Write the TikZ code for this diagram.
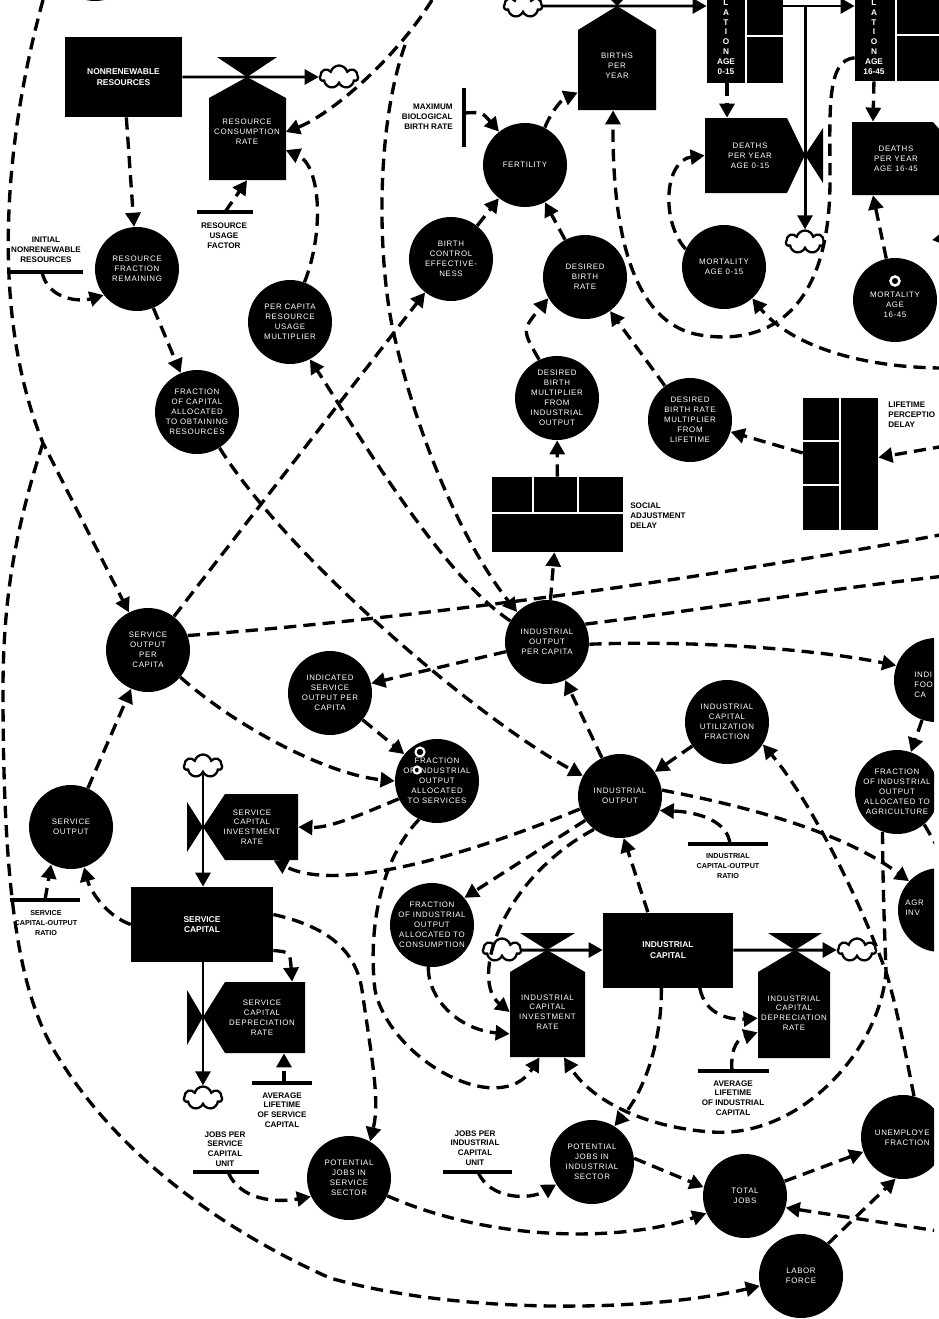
\documentclass[tikz,border=0pt]{standalone}
\usepackage{fontspec}
\setmainfont{Liberation Sans}
\newfontfamily\auxfont[LetterSpace=8.0]{Liberation Sans}
\usetikzlibrary{shapes.symbols, arrows.meta}

\begin{document}
\begin{tikzpicture}[
    x=0.02cm, y=-0.02cm,
    > = {Triangle[length=8pt, width=8.5pt]},
    aux/.style={circle, fill, minimum size=1.68cm, inner sep=0pt, text=white, align=center, font=\auxfont\fontsize{4.5}{5.7}\selectfont},
    rate/.style={inner sep=0pt, text=white, align=center, font=\auxfont\fontsize{4.5}{5.6}\selectfont},
    level/.style={rectangle, fill, inner sep=0pt, text=white, align=center, font=\bfseries\fontsize{4.8}{5.8}\selectfont},
    poptext/.style={inner sep=0pt, text=white, align=center, font=\bfseries\fontsize{4.7}{5.6}\selectfont},
    param/.style={inner sep=0pt, align=center, font=\bfseries\fontsize{4.6}{5.6}\selectfont},
    info/.style={->, line width=1.9pt, dash pattern=on 7pt off 4pt},
    link/.style={line width=1.9pt, dash pattern=on 7pt off 4pt},
    flow/.style={->, line width=1.7pt},
    bar/.style={line width=1.8pt},
    puff/.style={cloud, cloud puffs=7, cloud ignores aspect, draw, fill=white, line width=1.3pt, minimum width=0.76cm, minimum height=0.46cm, inner sep=0pt}
]
\useasboundingbox (0,0) rectangle (939,1319);
\clip (0,0) -- (939,0) -- (939,600) -- (934,600) -- (934,1319) -- (0,1319) -- cycle;

% 1. LEVELS AND DELAYS
\node[level, minimum width=2.34cm, minimum height=1.6cm] (NR) at (123.5,77) {NONRENEWABLE\\RESOURCES};
\node[level, minimum width=2.84cm, minimum height=1.5cm] (SC) at (202,924.5) {SERVICE\\CAPITAL};
\node[level, minimum width=2.6cm, minimum height=1.5cm] (IC) at (668,950) {INDUSTRIAL\\CAPITAL};

\node[level, minimum width=1.52cm, minimum height=1.76cm] (POPA) at (745,39) {};
\node[level, minimum width=1.68cm, minimum height=1.72cm] (POPB) at (897,38) {};
\draw[white, line width=0.8pt] (746,-5) -- (746,83) (746,36) -- (783,36);
\draw[white, line width=0.8pt] (896,-5) -- (896,81) (896,35) -- (939,35);
\node[poptext] (POPAtxt) at (726,37) {L\\A\\T\\I\\O\\N\\AGE\\0-15};
\node[poptext] (POPBtxt) at (874,37) {L\\A\\T\\I\\O\\N\\AGE\\16-45};

\node[level, minimum width=2.62cm, minimum height=1.5cm] (SAD) at (557.5,514.5) {};
\draw[white, line width=0.8pt] (492,513) -- (623,513) (533,477) -- (533,513) (578,477) -- (578,513);
\node[level, minimum width=1.5cm, minimum height=2.64cm] (LPD) at (840.5,464) {};
\draw[white, line width=0.8pt] (840,398) -- (840,530) (803,441) -- (840,441) (803,485) -- (840,485);

% 2. RATES
\fill (209,180) -- (209,98) -- (247,77) -- (286,98) -- (286,180) -- cycle;
\fill (217,57) -- (277,57) -- (247,77) -- cycle;
\node[rate, minimum width=1.54cm, minimum height=1.92cm] (RCR) at (247,132) {RESOURCE\\CONSUMPTION\\RATE};

\fill (578,110) -- (578,30) -- (617,6) -- (656,30) -- (656,110) -- cycle;
\fill (597,-14) -- (637,-14) -- (617,6) -- cycle;
\node[rate, minimum width=1.56cm, minimum height=1.76cm] (BPY) at (617,66) {BIRTHS\\PER\\YEAR};

\fill (705,118) -- (787,118) -- (805,155) -- (787,193) -- (705,193) -- cycle;
\fill (823,128) -- (823,183) -- (805,155) -- cycle;
\node[rate, minimum width=1.8cm, minimum height=1.5cm] (DPYA) at (750,155.5) {DEATHS\\PER YEAR\\AGE 0-15};

\fill (852,122) -- (933,122) -- (940,130) -- (940,195) -- (852,195) -- cycle;
\node[rate, minimum width=1.76cm, minimum height=1.46cm] (DPYB) at (896,158.5) {DEATHS\\PER YEAR\\AGE 16-45};

\fill (298,794) -- (225,794) -- (203,827) -- (225,860) -- (298,860) -- cycle;
\fill (187,802) -- (187,852) -- (203,827) -- cycle;
\node[rate, minimum width=1.84cm, minimum height=1.32cm] (SCIR) at (252,827) {SERVICE\\CAPITAL\\INVESTMENT\\RATE};

\fill (305,982) -- (225,982) -- (203,1017) -- (225,1053) -- (305,1053) -- cycle;
\fill (187,990) -- (187,1045) -- (203,1017) -- cycle;
\node[rate, minimum width=1.72cm, minimum height=1.42cm] (SCDR) at (262,1017.5) {SERVICE\\CAPITAL\\DEPRECIATION\\RATE};

\fill (510,1057) -- (510,972) -- (547,950) -- (585,972) -- (585,1057) -- cycle;
\fill (520,933) -- (575,933) -- (547,950) -- cycle;
\node[rate, minimum width=1.5cm, minimum height=1.8cm] (ICIR) at (547.5,1012) {INDUSTRIAL\\CAPITAL\\INVESTMENT\\RATE};

\fill (758,1058) -- (758,972) -- (795,950) -- (830,972) -- (830,1058) -- cycle;
\fill (768,933) -- (822,933) -- (795,950) -- cycle;
\node[rate, minimum width=1.44cm, minimum height=1.8cm] (ICDR) at (794,1013) {INDUSTRIAL\\CAPITAL\\DEPRECIATION\\RATE};

% 3. AUXILIARIES
\node[aux] (topaux) at (95,-41) {};
\node[aux] (RFR) at (137,269) {RESOURCE\\FRACTION\\REMAINING};
\node[aux] (PCRUM) at (290,322) {PER CAPITA\\RESOURCE\\USAGE\\MULTIPLIER};
\node[aux] (FCAOR) at (197,412) {FRACTION\\OF CAPITAL\\ALLOCATED\\TO OBTAINING\\RESOURCES};
\node[aux] (FERT) at (525,165) {FERTILITY};
\node[aux] (BCE) at (451,259) {BIRTH\\CONTROL\\EFFECTIVE-\\NESS};
\node[aux] (DBR) at (585,277) {DESIRED\\BIRTH\\RATE};
\node[aux] (MORTA) at (724,267) {MORTALITY\\AGE 0-15};
\node[aux] (MORTB) at (895,300) {};
\node[rate] (MORTBtxt) at (895,305) {MORTALITY\\AGE\\16-45};
\draw[white, line width=1.4pt] (895,281) circle[radius=0.09cm];
\node[aux] (DBMIO) at (557,398) {DESIRED\\BIRTH\\MULTIPLIER\\FROM\\INDUSTRIAL\\OUTPUT};
\node[aux] (DBRMFL) at (690,420) {DESIRED\\BIRTH RATE\\MULTIPLIER\\FROM\\LIFETIME};
\node[aux] (SOPC) at (148,650) {SERVICE\\OUTPUT\\PER\\CAPITA};
\node[aux] (IOPC) at (547,642) {INDUSTRIAL\\OUTPUT\\PER CAPITA};
\node[aux] (ISOPC) at (330,693) {INDICATED\\SERVICE\\OUTPUT PER\\CAPITA};
\node[aux] (FIOAS) at (437,781) {FRACTION\\OF INDUSTRIAL\\OUTPUT\\ALLOCATED\\TO SERVICES};
\draw[white, line width=1.2pt] (420,752) circle[radius=0.09cm] (417,770) circle[radius=0.07cm];
\node[aux] (IO) at (620,796) {INDUSTRIAL\\OUTPUT};
\node[aux] (ICUF) at (727,722) {INDUSTRIAL\\CAPITAL\\UTILIZATION\\FRACTION};
\node[aux] (IFPC) at (936,680) {};
\node[rate, align=left, anchor=west] (IFPCtxt) at (914,685) {INDI\\FOO\\CA};
\node[aux] (FIOAA) at (897,792) {FRACTION\\OF INDUSTRIAL\\OUTPUT\\ALLOCATED TO\\AGRICULTURE};
\node[aux] (AGRINV) at (940,910) {};
\node[rate, align=left, anchor=west] (AGRINVtxt) at (905,908) {AGR\\INV};
\node[aux] (FIOAC) at (432,925) {FRACTION\\OF INDUSTRIAL\\OUTPUT\\ALLOCATED TO\\CONSUMPTION};
\node[aux] (SO) at (71,827) {SERVICE\\OUTPUT};
\node[aux] (PJSS) at (349,1178) {POTENTIAL\\JOBS IN\\SERVICE\\SECTOR};
\node[aux] (PJIS) at (592,1162) {POTENTIAL\\JOBS IN\\INDUSTRIAL\\SECTOR};
\node[aux] (TJ) at (745,1196) {TOTAL\\JOBS};
\node[aux] (UF) at (903,1137) {};
\node[rate, align=right, anchor=east] (UFtxt) at (930,1138) {UNEMPLOYE\\FRACTION};
\node[aux] (LF) at (801,1276) {LABOR\\FORCE};

% 4. CONSTANTS
\draw[bar] (8,272) -- (83,272);
\draw[bar] (197,212) -- (253,212);
\draw[bar] (464,88) -- (464,147);
\draw[bar] (10,900) -- (80,900);
\draw[bar] (688,844) -- (768,844);
\draw[bar] (252,1083) -- (312,1083);
\draw[bar] (193,1172) -- (259,1172);
\draw[bar] (443,1172) -- (512,1172);
\draw[bar] (698,1071) -- (769,1071);
\coordinate (IRNb) at (42,272);
\coordinate (RUFb) at (225,212);
\coordinate (MBBRb) at (464,113);
\coordinate (SCORb) at (45,900);
\coordinate (ICORb) at (730,844);
\coordinate (ALSCb) at (284,1083);
\coordinate (JPSCUb) at (228,1172);
\coordinate (JPICUb) at (478,1172);
\coordinate (ALICb) at (732,1071);

\node[param] (IRNlab) at (46,250) {INITIAL\\NONRENEWABLE\\RESOURCES};
\node[param] (RUFlab) at (224,236) {RESOURCE\\USAGE\\FACTOR};
\node[param, align=right, anchor=east] (MBBRlab) at (453,117) {MAXIMUM\\BIOLOGICAL\\BIRTH RATE};
\node[param, font=\bfseries\fontsize{4.1}{5.6}\selectfont] (SCORlab) at (46,923) {SERVICE\\CAPITAL-OUTPUT\\RATIO};
\node[param, font=\bfseries\fontsize{4.1}{5.6}\selectfont] (ICORlab) at (728,866) {INDUSTRIAL\\CAPITAL-OUTPUT\\RATIO};
\node[param] (ALSClab) at (282,1110) {AVERAGE\\LIFETIME\\OF SERVICE\\CAPITAL};
\node[param] (JPSCUlab) at (225,1149) {JOBS PER\\SERVICE\\CAPITAL\\UNIT};
\node[param] (JPICUlab) at (475,1148) {JOBS PER\\INDUSTRIAL\\CAPITAL\\UNIT};
\node[param] (ALIClab) at (733,1098) {AVERAGE\\LIFETIME\\OF INDUSTRIAL\\CAPITAL};
\node[param, align=left, anchor=west] (SADlab) at (630,516) {SOCIAL\\ADJUSTMENT\\DELAY};
\node[param, align=left, anchor=west] (LPDlab) at (888,415) {LIFETIME\\PERCEPTIO\\DELAY};

% 5. SOURCES AND SINKS
\node[puff] (CLA) at (339,77) {};
\node[puff] (CLB) at (523,6) {};
\node[puff] (CLD) at (805,242) {};
\node[puff] (CLS) at (203,766) {};
\node[puff] (CLT) at (203,1098) {};
\node[puff] (CLI) at (502,950) {};
\node[puff] (CLJ) at (857,950) {};
\coordinate (vA) at (805,6);

\draw[flow] (NR.east) -- (CLA);
\draw[flow] (CLB) -- (CLB -| POPA.west);
\draw[flow] (POPA.east |- CLB) -- (POPB.west |- CLB);
\draw[flow] (vA) -- (CLD);
\draw[flow] (CLS) -- (CLS |- SC.north);
\draw[flow] (CLS |- SC.south) -- (CLT);
\draw[flow] (CLI) -- (CLI -| IC.west);
\draw[flow] (IC.east) -- (CLJ);

% 6. INFORMATION LINKS
% resources
\draw[info] (NR) -- (RFR);
\draw[info] (IRNb) .. controls (48,300) and (80,302) .. (RFR.218);
\draw[info] (RUFb) -- (RCR.south);
\draw[info] (RFR) -- (FCAOR);
\draw[info] (PCRUM.70) .. controls (325,230) and (320,165) .. (RCR.-25);
\coordinate (srcC) at (432,0);
\draw[info] (srcC) .. controls (395,60) and (330,115) .. (RCR.east);
\draw[info] (IOPC.150) .. controls (440,575) and (350,420) .. (PCRUM.-62);
\draw[info] (FCAOR) .. controls (290,560) and (480,720) .. (IO);

% population
\coordinate (srcD) at (405,45);
\draw[info] (srcD) .. controls (375,130) and (378,260) .. (393,330) .. controls (415,430) and (460,540) .. (IOPC.135);
\draw[info] (MBBRb) .. controls (482,112) .. (FERT.128);
\draw[info] (BCE) -- (FERT);
\draw[info] (DBR) -- (FERT);
\draw[info] (FERT.62) .. controls (548,118) and (560,100) .. (BPY.214);
\draw[info] (POPB.205) .. controls (826,60) and (830,110) .. (830,180) .. controls (830,320) and (760,345) .. (700,335) .. controls (640,325) and (612,250) .. (BPY.-95);
\coordinate (pa) at ([xshift=-0.36cm]POPA.south);
\draw[info] (pa) -- (pa |- DPYA.north);
\draw[info] (POPB.-118) -- (DPYB.122);
\draw[info] (MORTA.155) .. controls (660,220) and (665,160) .. (DPYA.west);
\draw[info] (MORTB) -- (DPYB.-122);
\coordinate (srcM) at (945,368);
\draw[info] (srcM) .. controls (860,368) and (790,345) .. (MORTA.-48);
\coordinate (srcR) at (952,237);
\coordinate (tipR) at (932,240);
\draw[info] (srcR) -- (tipR);
\draw[info] (DBMIO.115) .. controls (522,330) .. (DBR.210);
\draw[info] (DBRMFL) -- (DBR);
\draw[info] (LPD) -- (DBRMFL);
\coordinate (srcP) at (945,446);
\draw[info] (srcP) -- (LPD);
\draw[info] (SAD) -- (DBMIO);
\draw[info] (IOPC) -- (SAD);

% left border lines
\coordinate (srcL) at (43,0);
\coordinate (kinkL) at (43,443);
\draw[info] (srcL) .. controls (10,120) and (-15,300) .. (kinkL) -- (SOPC);
\draw[info] (kinkL) .. controls (15,530) and (3,600) .. (3,690) .. controls (3,900) and (20,1000) .. (60,1060) .. controls (110,1140) and (200,1220) .. (330,1278) .. controls (460,1315) and (650,1312) .. (LF);

% service sector
\draw[info] (SOPC) -- (BCE);
\coordinate (endE) at (945,534);
\draw[link] (SOPC.20) .. controls (400,620) and (700,580) .. (endE);
\coordinate (endF) at (945,576);
\draw[link] (IOPC.25) .. controls (700,610) and (820,590) .. (endF);
\draw[info] (IOPC.-3) .. controls (700,640) and (820,650) .. (IFPC.160);
\draw[info] (IOPC) -- (ISOPC);
\draw[info] (SO) -- (SOPC);
\draw[info] (SCORb) -- (SO.-118);
\draw[info] (SC.west) .. controls (105,915) and (90,890) .. (SO.-72);
\draw[info] (SOPC.-40) .. controls (240,730) and (330,775) .. (FIOAS.west);
\draw[info] (ISOPC) -- (FIOAS);
\draw[info] (FIOAS.205) .. controls (360,815) and (330,828) .. (SCIR.east);
\draw[info] (IO.198) .. controls (480,850) and (340,895) .. (SCIR.-57);
\draw[info] (SC.-20) .. controls (290,952) .. (SCDR.50);
\draw[info] (ALSCb) -- (ALSCb |- SCDR.south);
\draw[info] (SC.8) .. controls (320,925) and (355,945) .. (362,990) .. controls (372,1060) and (380,1100) .. (PJSS.60);
\draw[info] (JPSCUb) .. controls (240,1200) and (275,1203) .. (PJSS.206);

% industrial sector
\draw[info] (IO) -- (IOPC);
\draw[info] (ICUF) -- (IO);
\draw[info] (IC.118) -- (IO.-85);
\draw[info] (ICORb) .. controls (728,822) and (700,812) .. (IO.-20);
\draw[info] (IO.215) -- (FIOAC.40);
\draw[info] (IO.8) .. controls (740,805) and (840,830) .. (AGRINV.137);
\draw[info] (IFPC) -- (FIOAA);
\coordinate (endA) at (945,860);
\draw[link] (FIOAA.-50) -- (endA);
\draw[info] (IO.232) .. controls (500,880) and (470,980) .. (ICIR.west);
\draw[info] (FIOAC.-95) .. controls (428,1000) and (460,1030) .. (ICIR.210);
\draw[info] (FIOAS.-115) .. controls (380,860) and (368,930) .. (375,990) .. controls (390,1060) and (500,1120) .. (ICIR.-100);
\draw[info] (FIOAA.-110) .. controls (883,900) and (885,940) .. (886,972) .. controls (880,1050) and (800,1138) .. (712,1132) .. controls (640,1127) and (590,1098) .. (ICIR.-70);
\draw[info] (UF.75) .. controls (905,1050) and (895,1000) .. (886,972) .. controls (860,900) and (810,800) .. (ICUF.-32);
\draw[info] (IC.-50) .. controls (705,1015) and (730,1020) .. (ICDR.188);
\draw[info] (ALICb) .. controls (730,1045) and (740,1038) .. (ICDR.208);
\draw[info] (IC.-100) .. controls (662,1040) and (645,1090) .. (PJIS.58);
\draw[info] (JPICUb) .. controls (490,1200) and (530,1200) .. (PJIS.212);

% jobs
\draw[info] (PJSS.-25) .. controls (500,1245) and (630,1240) .. (TJ.204);
\draw[info] (PJIS.5) -- (TJ.168);
\draw[info] (TJ) -- (UF);
\draw[info] (LF.50) -- (UF.-100);
\coordinate (srcT) at (945,1232);
\draw[info] (srcT) -- (TJ.-16);
\end{tikzpicture}
\end{document}
